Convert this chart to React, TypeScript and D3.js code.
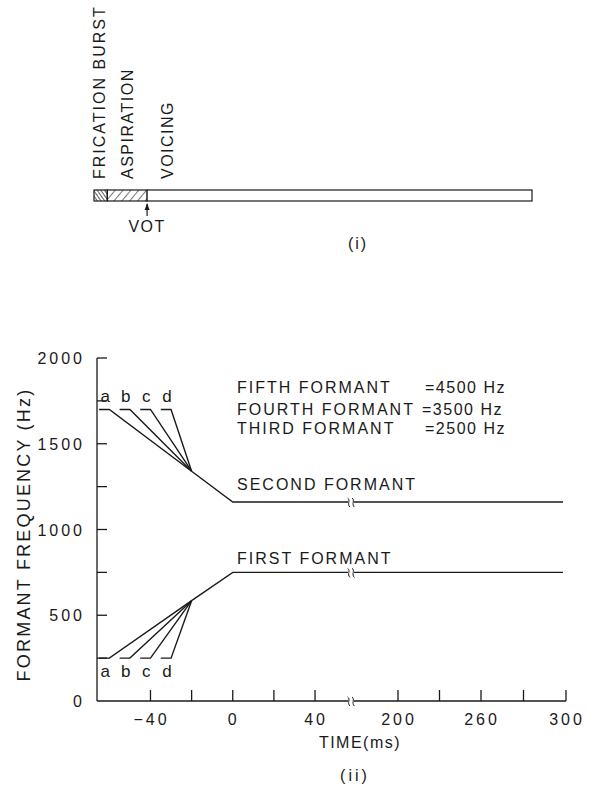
import React from "react";
import * as d3 from "d3";

// Panel (i): stimulus timeline, durations in ms
const timelineSegments = ["frication", "aspiration", "voicing"];
const timelineBounds = [0, 10, 40, 330];
const timelineLabels = ["FRICATION BURST", "ASPIRATION", "VOICING"];

// Panel (ii): formant patterns for the a–d continuum
const continuumLabels = ["a", "b", "c", "d"];
const leadInStart = [-65, -55, -45, -35]; // flat onset segment begins (ms)
const transitionStart = [-60, -50, -40, -30]; // transition begins (ms)
const mergeTime = -20;
const voicingOnset = 0;
const endTime = 300;

const f1Onset = 250;
const f1Merge = 585;
const f1Steady = 750;
const f2Onset = 1700;
const f2Merge = 1340;
const f2Steady = 1160;

const higherFormantNames = ["FIFTH FORMANT", "FOURTH FORMANT", "THIRD FORMANT"];
const higherFormantValues = ["=4500 Hz", "=3500 Hz", "=2500 Hz"];

const yTicks = [250, 500, 750, 1000, 1250, 1500, 1750, 2000];
const yTickLabels = [0, 500, 1000, 1500, 2000];
const xTicksNear = [-40, -20, 0, 20, 40];
const xLabelsNear = [-40, 0, 40];
const xTicksFar = [200, 230, 260, 280, 300];
const xLabelsFar = [200, 260, 300];

const FONT = "'Liberation Sans', Arial, sans-serif";
const INK = "#1a1a1a";

export default function App() {
  const W = 589;
  const H = 786;

  // Panel (i) scale
  const tScale = d3.scaleLinear().domain([0, 330]).range([94, 532]);
  const barTop = 190;
  const barH = 11;

  // Panel (ii) scales: broken time axis
  const xNear = d3.scaleLinear().domain([-66, 57]).range([97, 350]);
  const xFar = d3.scaleLinear().domain([200, 260, 300]).range([398, 481, 566]);
  const y = d3.scaleLinear().domain([0, 2000]).range([701, 358]);
  const breakX = 351;
  const axisLeft = xNear(-66);
  const axisRight = xFar(endTime);
  const axisY = y(0);

  const line = d3
    .line<[number, number]>()
    .x((d) => d[0])
    .y((d) => d[1]);

  const breakMark = (x: number, yy: number) =>
    [-2.2, 2.2]
      .map(
        (dx) =>
          `M${x + dx - 1.2},${yy - 4} C${x + dx + 2.2},${yy - 2} ${x + dx - 2.2},${yy + 2} ${x + dx + 1.2},${yy + 5}`
      )
      .join(" ");

  const formantPaths = (onset: number, merge: number, steady: number) => {
    const paths: string[] = [];
    continuumLabels.forEach((_, i) => {
      const pts: [number, number][] = [
        [xNear(leadInStart[i]), y(onset)],
        [xNear(transitionStart[i]), y(onset)],
        [xNear(mergeTime), y(merge)],
      ];
      paths.push(line(pts) as string);
    });
    paths.push(
      line([
        [xNear(mergeTime), y(merge)],
        [xNear(voicingOnset), y(steady)],
        [breakX - 3, y(steady)],
      ]) as string
    );
    paths.push(
      line([
        [breakX + 3, y(steady)],
        [xFar(endTime) - 3, y(steady)],
      ]) as string
    );
    return paths;
  };

  const f1Paths = formantPaths(f1Onset, f1Merge, f1Steady);
  const f2Paths = formantPaths(f2Onset, f2Merge, f2Steady);

  const textStyle = { fontFamily: FONT, fill: INK } as const;

  return (
    <svg
      width={W}
      height={H}
      viewBox={`0 0 ${W} ${H}`}
      style={{ position: "absolute", left: 0, top: 0, background: "#fff" }}
    >
      <defs>
        <pattern id="hatchDense" width="3" height="3" patternUnits="userSpaceOnUse" patternTransform="rotate(-35)">
          <line x1="0" y1="0" x2="0" y2="3" stroke={INK} strokeWidth="1.4" />
        </pattern>
        <pattern id="hatchSparse" width="6" height="6" patternUnits="userSpaceOnUse" patternTransform="rotate(40)">
          <line x1="0" y1="0" x2="0" y2="6" stroke={INK} strokeWidth="1.2" />
        </pattern>
      </defs>

      {/* Panel (i) */}
      <g>
        {timelineSegments.map((seg, i) => (
          <rect
            key={seg}
            x={tScale(timelineBounds[i])}
            y={barTop}
            width={tScale(timelineBounds[i + 1]) - tScale(timelineBounds[i])}
            height={barH}
            fill={seg === "frication" ? "url(#hatchDense)" : seg === "aspiration" ? "url(#hatchSparse)" : "#fff"}
            stroke={INK}
            strokeWidth={1.2}
          />
        ))}
        {timelineLabels.map((lab, i) => {
          const bx = [105, 133, 173][i];
          return (
            <text
              key={lab}
              transform={`translate(${bx},179) rotate(-90)`}
              fontSize={16}
              letterSpacing={i === 0 ? 2 : 1.5}
              style={textStyle}
            >
              {lab}
            </text>
          );
        })}
        <line x1={tScale(40)} x2={tScale(40)} y1={204} y2={216} stroke={INK} strokeWidth={1.2} />
        <path
          d={`M${tScale(40) - 2.5},${210} L${tScale(40)},${203} L${tScale(40) + 2.5},${210} Z`}
          fill={INK}
        />
        <text x={tScale(40)} y={232} fontSize={16} textAnchor="middle" letterSpacing={1.5} style={textStyle}>
          VOT
        </text>
        <text x={358} y={249} fontSize={16} textAnchor="middle" letterSpacing={2} style={textStyle}>
          (i)
        </text>
      </g>

      {/* Panel (ii) axes */}
      <g stroke={INK} strokeWidth={1.3} fill="none">
        <line x1={axisLeft} x2={axisLeft} y1={y(2000)} y2={axisY} />
        <line x1={axisLeft} x2={breakX - 3} y1={axisY} y2={axisY} />
        <line x1={breakX + 3} x2={axisRight} y1={axisY} y2={axisY} />
        <path d={breakMark(breakX, axisY)} strokeWidth={1} />
        {yTicks.map((t) => (
          <line key={t} x1={axisLeft} x2={axisLeft + 10} y1={y(t)} y2={y(t)} />
        ))}
        {xTicksNear.map((t) => (
          <line key={t} x1={xNear(t)} x2={xNear(t)} y1={axisY} y2={axisY - 11} />
        ))}
        {xTicksFar.map((t) => (
          <line key={t} x1={xFar(t)} x2={xFar(t)} y1={axisY} y2={axisY - 11} />
        ))}
      </g>

      {yTickLabels.map((t) => (
        <text key={t} x={85} y={y(t) + 6} fontSize={16} textAnchor="end" letterSpacing={3} style={textStyle}>
          {t}
        </text>
      ))}
      {xLabelsNear.map((t) => (
        <text key={t} x={xNear(t) + 1} y={axisY + 24} fontSize={16} textAnchor="middle" letterSpacing={3} style={textStyle}>
          {t === -40 ? "\u221240" : t}
        </text>
      ))}
      {xLabelsFar.map((t) => (
        <text key={t} x={xFar(t) + 1} y={axisY + 24} fontSize={16} textAnchor="middle" letterSpacing={3} style={textStyle}>
          {t}
        </text>
      ))}
      <text x={360} y={748} fontSize={16} textAnchor="middle" letterSpacing={1.5} style={textStyle}>
        TIME(ms)
      </text>
      <text x={355} y={781} fontSize={16} textAnchor="middle" letterSpacing={3} style={textStyle}>
        (ii)
      </text>
      <text
        transform={`translate(30,${(y(0) + y(2000)) / 2 + 5}) rotate(-90)`}
        fontSize={18}
        textAnchor="middle"
        letterSpacing={2.2}
        style={textStyle}
      >
        FORMANT FREQUENCY (Hz)
      </text>

      {/* Formant tracks */}
      <g stroke={INK} strokeWidth={1.4} fill="none">
        {f2Paths.map((d, i) => (
          <path key={`f2-${i}`} d={d} />
        ))}
        {f1Paths.map((d, i) => (
          <path key={`f1-${i}`} d={d} />
        ))}
        <path d={breakMark(breakX, y(f2Steady))} strokeWidth={1} />
        <path d={breakMark(breakX, y(f1Steady))} strokeWidth={1} />
      </g>

      {continuumLabels.map((lab, i) => (
        <text
          key={`f2l-${lab}`}
          x={(xNear(leadInStart[i]) + xNear(transitionStart[i])) / 2 + 1}
          y={y(f2Onset) - 7}
          fontSize={17}
          textAnchor="middle"
          style={textStyle}
        >
          {lab}
        </text>
      ))}
      {continuumLabels.map((lab, i) => (
        <text
          key={`f1l-${lab}`}
          x={(xNear(leadInStart[i]) + xNear(transitionStart[i])) / 2 + 1}
          y={y(f1Onset) + 19}
          fontSize={17}
          textAnchor="middle"
          style={textStyle}
        >
          {lab}
        </text>
      ))}

      {higherFormantNames.map((name, i) => {
        const by = [393, 415, 434][i];
        return (
          <g key={name}>
            <text x={237} y={by} fontSize={16} letterSpacing={2} style={textStyle}>
              {name}
            </text>
            <text x={i === 1 ? 422 : 425} y={by} fontSize={16} letterSpacing={1.5} style={textStyle}>
              {higherFormantValues[i]}
            </text>
          </g>
        );
      })}
      <text x={237} y={490} fontSize={16} letterSpacing={2} style={textStyle}>
        SECOND FORMANT
      </text>
      <text x={237} y={564} fontSize={16} letterSpacing={2} style={textStyle}>
        FIRST FORMANT
      </text>
    </svg>
  );
}
